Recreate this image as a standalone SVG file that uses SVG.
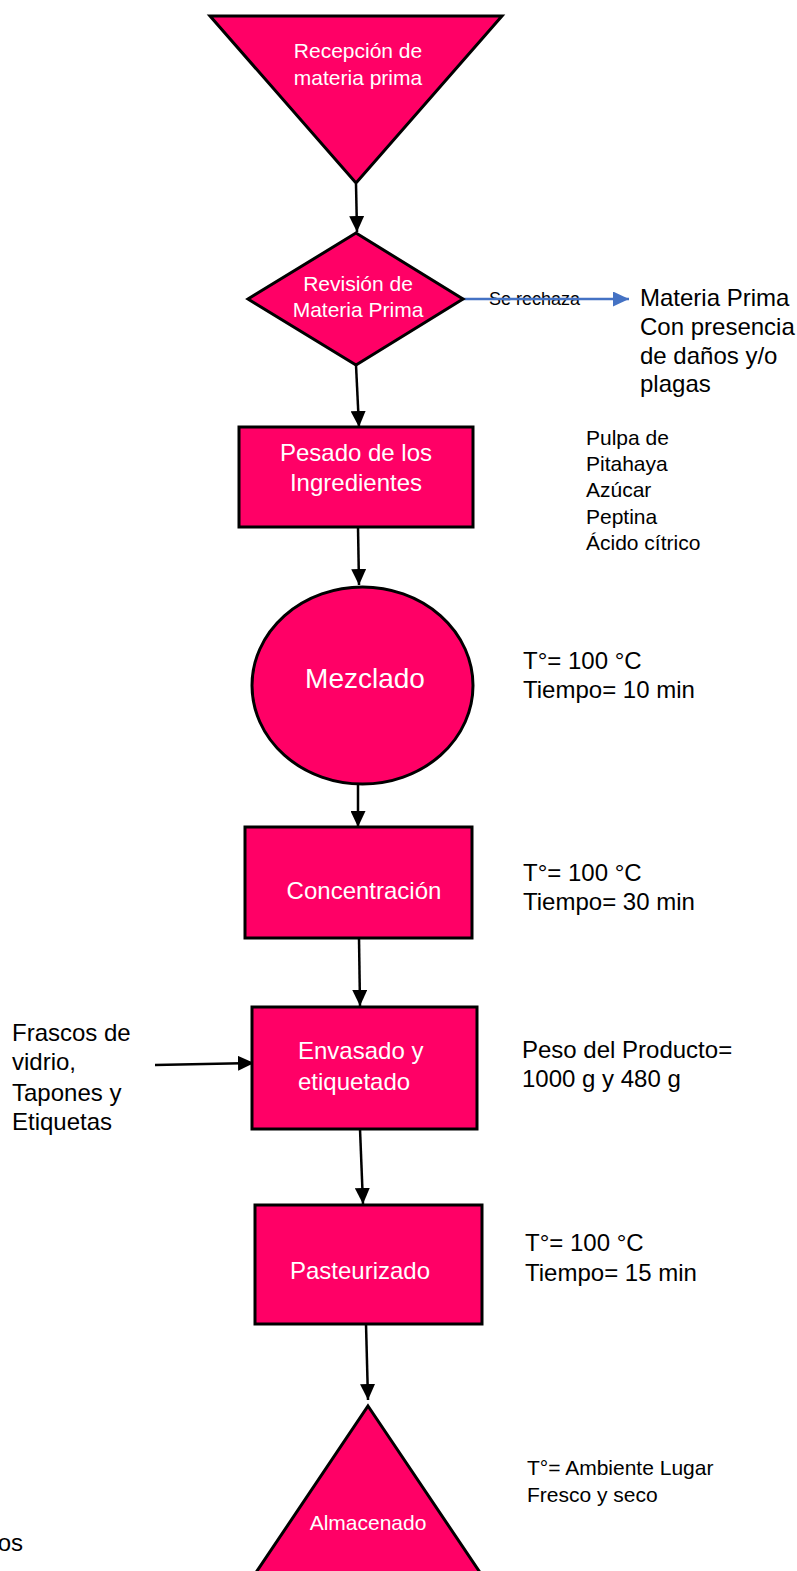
<svg xmlns="http://www.w3.org/2000/svg" width="797" height="1571" viewBox="0 0 797 1571">
  <style>
    .shape { fill: #FF0066; stroke: #000; stroke-width: 3; }
    .in { fill: #fff; font-family: "Liberation Sans", Arial, sans-serif; text-anchor: middle; }
    .in-left { fill: #fff; font-family: "Liberation Sans", Arial, sans-serif; text-anchor: start; }
    .note { fill: #000; font-family: "Liberation Sans", Arial, sans-serif; }
    .flow { stroke: #000; stroke-width: 2.5; fill: none; marker-end: url(#arrow); }
    .reject { stroke: #4472C4; stroke-width: 2.5; fill: none; marker-end: url(#arrowBlue); }
  </style>
  <defs>
    <marker id="arrow" viewBox="0 0 16 15" refX="16" refY="7.5" markerWidth="16" markerHeight="15" markerUnits="userSpaceOnUse" orient="auto">
      <path d="M0,0 L16,7.5 L0,15 Z" fill="#000"/>
    </marker>
    <marker id="arrowBlue" viewBox="0 0 16 15" refX="16" refY="7.5" markerWidth="16" markerHeight="15" markerUnits="userSpaceOnUse" orient="auto">
      <path d="M0,0 L16,7.5 L0,15 Z" fill="#4472C4"/>
    </marker>
  </defs>
  <rect width="797" height="1571" fill="#fff"/>

  <!-- Connectors -->
  <g id="connectors">
    <line class="flow" x1="356" y1="184" x2="357" y2="232"/>
    <line class="flow" x1="356" y1="365" x2="359" y2="427"/>
    <line class="flow" x1="358" y1="527" x2="359" y2="585"/>
    <line class="flow" x1="358" y1="784" x2="358" y2="827"/>
    <line class="flow" x1="359" y1="938" x2="360" y2="1006"/>
    <line class="flow" x1="360" y1="1129" x2="363" y2="1204"/>
    <line class="flow" x1="366" y1="1324" x2="368" y2="1400"/>
    <line class="flow" x1="155" y1="1065" x2="254" y2="1063"/>
    <text class="note" x="489" y="305" font-size="18">Se rechaza</text>
    <line class="reject" x1="463" y1="299" x2="629" y2="299"/>
  </g>

  <!-- Reception of raw material -->
  <g id="recepcion">
    <polygon class="shape" stroke-width="2.5" points="210,16 502,16 356,183"/>
    <text class="in" x="358" y="58" font-size="21">Recepción de</text>
    <text class="in" x="358" y="85" font-size="21">materia prima</text>
  </g>

  <!-- Inspection decision -->
  <g id="revision">
    <polygon class="shape" stroke-width="2.5" points="356,233 463,299 356,365 248,299"/>
    <text class="in" x="358" y="291" font-size="21">Revisión de</text>
    <text class="in" x="358" y="317" font-size="21">Materia Prima</text>
  </g>

  <g id="rechazo">
    <text class="note" x="640" y="306" font-size="24">Materia Prima</text>
    <text class="note" x="640" y="335" font-size="24">Con presencia</text>
    <text class="note" x="640" y="364" font-size="24">de daños y/o</text>
    <text class="note" x="640" y="392" font-size="24">plagas</text>
  </g>

  <!-- Weighing -->
  <g id="pesado">
    <rect class="shape" x="239" y="427" width="234" height="100"/>
    <text class="in" x="356" y="461" font-size="24">Pesado de los</text>
    <text class="in" x="356" y="491" font-size="24">Ingredientes</text>
  </g>

  <g id="ingredientes">
    <text class="note" x="586" y="445" font-size="21">Pulpa de</text>
    <text class="note" x="586" y="471" font-size="21">Pitahaya</text>
    <text class="note" x="586" y="497" font-size="21">Azúcar</text>
    <text class="note" x="586" y="524" font-size="21">Peptina</text>
    <text class="note" x="586" y="550" font-size="21">Ácido cítrico</text>
  </g>

  <!-- Mixing -->
  <g id="mezclado">
    <ellipse class="shape" cx="362.5" cy="685.5" rx="110.5" ry="98.5"/>
    <text class="in" x="365" y="688" font-size="28">Mezclado</text>
    <text class="note" x="523" y="669" font-size="24">T°= 100 °C</text>
    <text class="note" x="523" y="698" font-size="24">Tiempo= 10 min</text>
  </g>

  <!-- Concentration -->
  <g id="concentracion">
    <rect class="shape" x="245" y="827" width="227" height="111"/>
    <text class="in" x="364" y="899" font-size="24">Concentración</text>
    <text class="note" x="523" y="881" font-size="24">T°= 100 °C</text>
    <text class="note" x="523" y="910" font-size="24">Tiempo= 30 min</text>
  </g>

  <!-- Filling and labelling -->
  <g id="envasado">
    <rect class="shape" x="252" y="1007" width="225" height="122"/>
    <text class="in-left" x="298" y="1059" font-size="24">Envasado y</text>
    <text class="in-left" x="298" y="1090" font-size="24">etiquetado</text>
    <text class="note" x="522" y="1058" font-size="24">Peso del Producto=</text>
    <text class="note" x="522" y="1087" font-size="24">1000 g y 480 g</text>
  </g>

  <g id="insumos">
    <text class="note" x="12" y="1041" font-size="24">Frascos de</text>
    <text class="note" x="12" y="1070" font-size="24">vidrio,</text>
    <text class="note" x="12" y="1101" font-size="24">Tapones y</text>
    <text class="note" x="12" y="1130" font-size="24">Etiquetas</text>
  </g>

  <!-- Pasteurisation -->
  <g id="pasteurizado">
    <rect class="shape" x="255" y="1205" width="227" height="119"/>
    <text class="in" x="360" y="1279" font-size="24">Pasteurizado</text>
    <text class="note" x="525" y="1251" font-size="24">T°= 100 °C</text>
    <text class="note" x="525" y="1281" font-size="24">Tiempo= 15 min</text>
  </g>

  <!-- Storage -->
  <g id="almacenado">
    <polygon class="shape" stroke-width="2.5" points="368,1406 512,1620 224,1620"/>
    <text class="in" x="368" y="1530" font-size="21">Almacenado</text>
    <text class="note" x="527" y="1475" font-size="21">T°= Ambiente Lugar</text>
    <text class="note" x="527" y="1502" font-size="21">Fresco y seco</text>
  </g>

  <text class="note" x="23" y="1551" font-size="24" text-anchor="end">os</text>
</svg>
